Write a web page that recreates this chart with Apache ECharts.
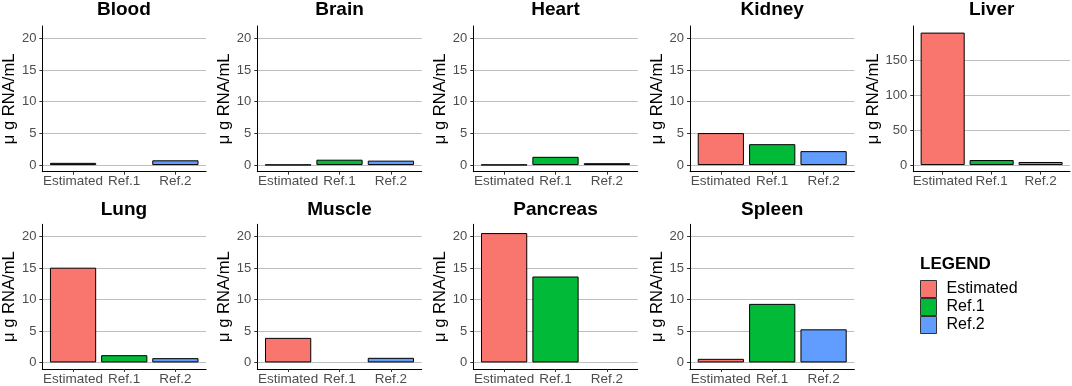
<!DOCTYPE html>
<html>
<head>
<meta charset="utf-8">
<script src="https://cdn.jsdelivr.net/npm/echarts@6/dist/echarts.min.js"></script>
<style>
html,body{margin:0;padding:0;background:#fff;}
#chart{width:1072px;height:386px;}
</style>
</head>
<body>
<div id="chart"></div>
<script>
// ---- data ----
const panels = ['Blood','Brain','Heart','Kidney','Liver','Lung','Muscle','Pancreas','Spleen'];
const categories = ['Estimated','Ref.1','Ref.2'];
const estimated = [0.35, 0.05, 0.05, 5.05, 189, 15.05, 3.9, 20.55, 0.57];
const ref1      = [null, 0.85, 1.3, 3.3, 7.2, 1.15, null, 13.65, 9.3];
const ref2      = [0.75, 0.7, 0.3, 2.2, 4.4, 0.68, 0.73, null, 5.26];
const yTicksCommon = [0, 5, 10, 15, 20];
const yTicksLiver = [0, 50, 100, 150];
const yName = 'μ g RNA/mL';

// ---- layout / style ----
const FONT = '"Liberation Sans", Arial, sans-serif';
const colors = ['#F8766D', '#00BA38', '#619CFF'];
const colLefts = [41.7, 257.3, 473.3, 690, 913.3];
const colWidths = [164.4, 164.4, 164.4, 164.4, 156.7];
const rowTops = [26, 224.3];
const rowTitleY = [10, 210];
const plotH = 145.7;
const values = [estimated, ref1, ref2];

const grids = [], xAxes = [], yAxes = [], series = [], graphics = [];
panels.forEach((p, i) => {
  const row = i < 5 ? 0 : 1;
  const col = i % 5;
  const left = colLefts[col], width = colWidths[col], top = rowTops[row];
  grids.push({left: left, top: top, width: width, height: plotH, containLabel: false});
  const isLiver = p === 'Liver';
  const ticks = isLiver ? yTicksLiver : yTicksCommon;
  const dataMax = isLiver ? 189 : 20.9;
  const pad = dataMax * 0.05;
  xAxes.push({
    type: 'value', gridIndex: i, min: 0.4, max: 3.6,
    axisLine: {show: true, onZero: false, lineStyle: {color: '#000', width: 1}},
    axisTick: {show: true, customValues: [1, 2, 3], length: 3, lineStyle: {color: '#333', width: 1}},
    axisLabel: {show: true, customValues: [1, 2, 3], margin: 3,
      formatter: v => categories[Math.round(v) - 1] || '',
      color: '#4D4D4D', fontSize: 13.5, fontFamily: FONT},
    splitLine: {show: false}
  });
  yAxes.push({
    type: 'value', gridIndex: i, min: -pad, max: dataMax + pad,
    name: yName, nameLocation: 'middle', nameGap: 23,
    nameTextStyle: {color: '#000', fontSize: 16.6, fontFamily: FONT},
    axisLine: {show: true, onZero: false, lineStyle: {color: '#000', width: 1}},
    axisTick: {show: true, customValues: ticks, length: 3, lineStyle: {color: '#333', width: 1}},
    axisLabel: {show: true, customValues: ticks, margin: 6, color: '#4D4D4D', fontSize: 13, fontFamily: FONT},
    splitLine: {show: true, lineStyle: {color: '#BEBEBE', width: 1}}
  });
  const unit = width / 3.2;
  categories.forEach((c, k) => {
    const v = values[k][i];
    series.push({
      type: 'bar', name: c, xAxisIndex: i, yAxisIndex: i,
      barWidth: unit * 0.9, barGap: '-100%',
      itemStyle: {color: colors[k], borderColor: '#000', borderWidth: 1},
      data: v == null ? [] : [[k + 1, v]],
      silent: true
    });
  });
  graphics.push({
    type: 'text', x: left + width / 2, y: rowTitleY[row],
    style: {text: p, fill: '#000', font: 'bold 19px ' + FONT, textAlign: 'center', textVerticalAlign: 'middle'}
  });
});
graphics.push({
  type: 'text', x: 920, y: 264,
  style: {text: 'LEGEND', fill: '#000', font: 'bold 17px ' + FONT, textAlign: 'left', textVerticalAlign: 'middle'}
});

const chart = echarts.init(document.getElementById('chart'), null, {renderer: 'canvas'});
chart.setOption({
  animation: false,
  backgroundColor: '#fff',
  grid: grids,
  xAxis: xAxes,
  yAxis: yAxes,
  series: series,
  graphic: graphics,
  legend: {
    data: categories, orient: 'vertical', left: 920, top: 280, padding: 0,
    itemWidth: 16, itemHeight: 17, itemGap: 0, icon: 'rect', selectedMode: false,
    itemStyle: {borderColor: '#333', borderWidth: 1},
    textStyle: {fontSize: 16, color: '#000', fontFamily: FONT, padding: [0, 0, 0, 5]}
  }
});
</script>
</body>
</html>
